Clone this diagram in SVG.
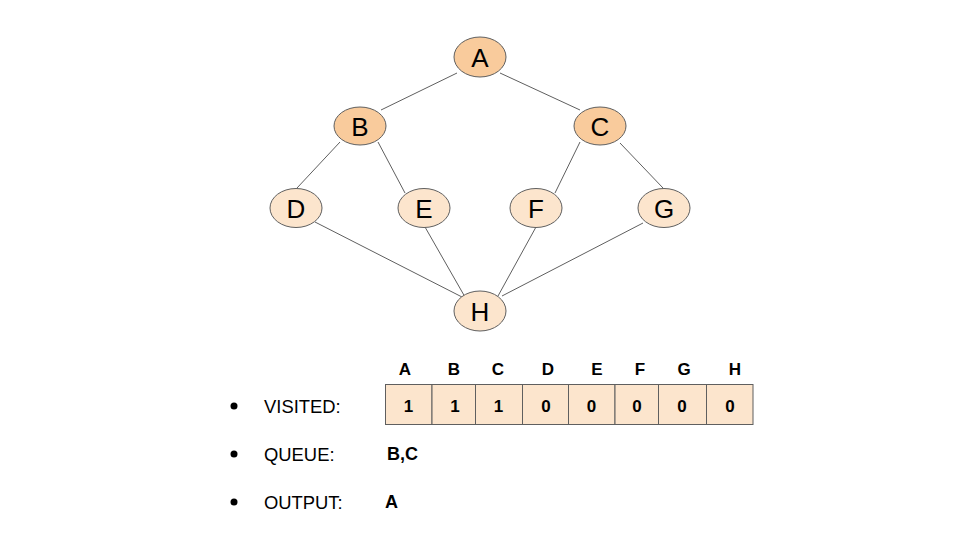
<svg xmlns="http://www.w3.org/2000/svg" width="960" height="540" viewBox="0 0 960 540">
  <style>
    .node ellipse { stroke: #5f5f5f; stroke-width: 1; }
    .seen ellipse { fill: #f9cb9c; }
    .open ellipse { fill: #fce5cd; }
    .node text { font-family: "Liberation Sans", Arial, sans-serif; font-size: 26px; fill: #000; text-anchor: middle; }
    .edges line { stroke: #5f5f5f; stroke-width: 1; }
    .cell { fill: #fce5cd; stroke: #5f5f5f; stroke-width: 1; }
    .hdr, .val, .bold { font-family: "Liberation Sans", Arial, sans-serif; font-weight: bold; fill: #000; }
    .hdr { font-size: 17px; text-anchor: middle; }
    .val { font-size: 17px; text-anchor: middle; }
    .bold { font-size: 18px; }
    .label { font-family: "Liberation Sans", Arial, sans-serif; font-size: 18.4px; fill: #000; }
  </style>
  <rect width="960" height="540" fill="#ffffff"/>

  <!-- graph edges -->
  <g id="connectors" class="edges">
    <line x1="457" y1="73" x2="381" y2="110"/>
    <line x1="500" y1="73" x2="580" y2="110"/>
    <line x1="340" y1="142" x2="297" y2="188"/>
    <line x1="378" y1="142" x2="405" y2="193"/>
    <line x1="580" y1="142" x2="555" y2="193"/>
    <line x1="620" y1="143" x2="663" y2="188"/>
    <line x1="315" y1="222" x2="462" y2="297"/>
    <line x1="425" y1="227" x2="465" y2="297"/>
    <line x1="536" y1="227" x2="498" y2="296"/>
    <line x1="643" y1="223" x2="502" y2="296"/>
  </g>

  <!-- graph nodes -->
  <g id="node-A" class="node seen"><ellipse cx="480" cy="57" rx="26" ry="20"/><text x="480" y="66.5">A</text></g>
  <g id="node-B" class="node seen"><ellipse cx="360" cy="126" rx="26" ry="19"/><text x="360" y="135.5">B</text></g>
  <g id="node-C" class="node seen"><ellipse cx="600" cy="126" rx="26" ry="19"/><text x="600" y="135.5">C</text></g>
  <g id="node-D" class="node open"><ellipse cx="296" cy="208" rx="26" ry="19.5"/><text x="296" y="217.5">D</text></g>
  <g id="node-E" class="node open"><ellipse cx="424" cy="208" rx="26" ry="19.5"/><text x="424" y="217.5">E</text></g>
  <g id="node-F" class="node open"><ellipse cx="536" cy="208" rx="26" ry="19.5"/><text x="536" y="217.5">F</text></g>
  <g id="node-G" class="node open"><ellipse cx="664" cy="208" rx="26" ry="19.5"/><text x="664" y="217.5">G</text></g>
  <g id="node-H" class="node open"><ellipse cx="480" cy="311" rx="26" ry="20"/><text x="480" y="320.5">H</text></g>

  <!-- visited array -->
  <g id="visited-table">
    <rect class="cell" x="385.5" y="384.5" width="46.5" height="40"/>
    <rect class="cell" x="432" y="384.5" width="43.5" height="40"/>
    <rect class="cell" x="475.5" y="384.5" width="47" height="40"/>
    <rect class="cell" x="522.5" y="384.5" width="46" height="40"/>
    <rect class="cell" x="568.5" y="384.5" width="46.5" height="40"/>
    <rect class="cell" x="615" y="384.5" width="43.5" height="40"/>
    <rect class="cell" x="658.5" y="384.5" width="48" height="40"/>
    <rect class="cell" x="706.5" y="384.5" width="46.5" height="40"/>

    <text class="hdr" x="405" y="375">A</text>
    <text class="hdr" x="454" y="375">B</text>
    <text class="hdr" x="498" y="375">C</text>
    <text class="hdr" x="548" y="375">D</text>
    <text class="hdr" x="597" y="375">E</text>
    <text class="hdr" x="640" y="375">F</text>
    <text class="hdr" x="684" y="375">G</text>
    <text class="hdr" x="735" y="375">H</text>

    <text class="val" x="408.5" y="412">1</text>
    <text class="val" x="455" y="412">1</text>
    <text class="val" x="498.5" y="412">1</text>
    <text class="val" x="546" y="412">0</text>
    <text class="val" x="591.5" y="412">0</text>
    <text class="val" x="637" y="412">0</text>
    <text class="val" x="682" y="412">0</text>
    <text class="val" x="730" y="412">0</text>
  </g>

  <!-- state list -->
  <g id="state-list">
    <circle cx="234" cy="406" r="3.5" fill="#000"/>
    <circle cx="234" cy="454" r="3.5" fill="#000"/>
    <circle cx="234" cy="502" r="3.5" fill="#000"/>
    <text class="label" x="264" y="412.5">VISITED:</text>
    <text class="label" x="264" y="460.5">QUEUE:</text>
    <text class="label" x="264" y="508.5">OUTPUT:</text>
    <text class="bold" x="387" y="459.5">B,C</text>
    <text class="bold" x="385" y="507.5">A</text>
  </g>
</svg>
